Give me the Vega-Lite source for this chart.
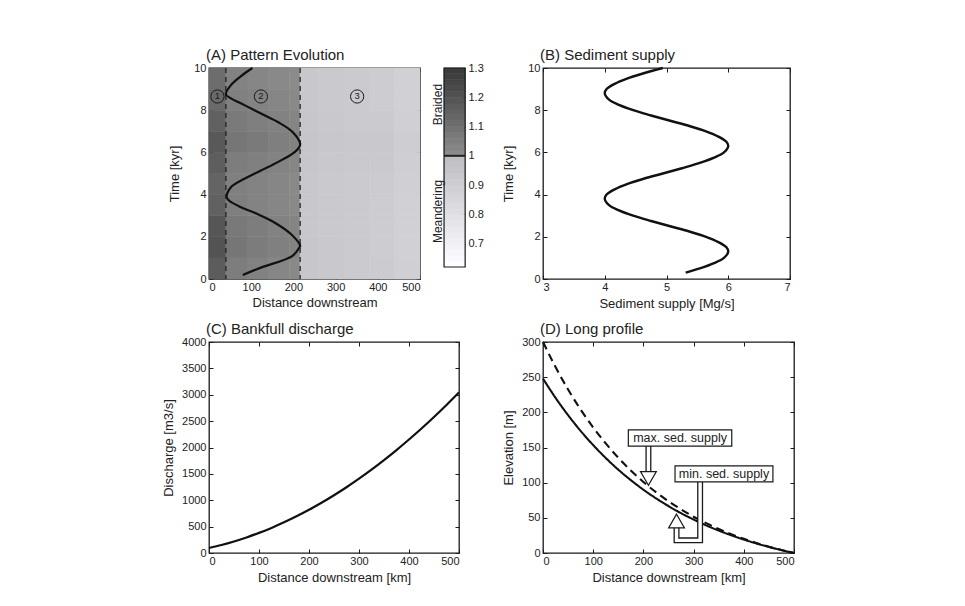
{
  "$schema": "https://vega.github.io/schema/vega-lite/v6.json",
  "autosize": "none",
  "padding": {"left": 209, "top": 68, "right": 756, "bottom": 538},
  "background": "white",
  "columns": 2,
  "bounds": "flush",
  "align": "each",
  "spacing": {"column": 84, "row": 63},
  "config": {
    "font": "Liberation Sans",
    "view": {"stroke": "#1a1a1a", "strokeWidth": 1.3},
    "axis": {"grid": false, "domain": false, "tickColor": "#1a1a1a", "tickSize": -4, "tickWidth": 1, "labelFont": "Liberation Sans", "labelFontSize": 11, "labelColor": "#222222", "labelPadding": 7, "labelOverlap": false, "titleFont": "Liberation Sans", "titleFontSize": 13, "titleFontWeight": "normal", "titleColor": "#222222", "titlePadding": 3},
    "axisX": {"labelPadding": 6, "titlePadding": 5},
    "title": {"anchor": "start", "frame": "group", "fontSize": 15, "fontWeight": "normal", "color": "#222222", "font": "Liberation Sans", "offset": -1}
  },
  "concat": [
    {
      "title": {"text": "(A) Pattern Evolution", "dx": -3},
      "width": 211,
      "height": 211,
      "layer": [
        {
          "data": {"values": [
            {"a":0,"b":40,"t":0,"u":1,"p":1.17},{"a":0,"b":40,"t":1,"u":2,"p":1.2},{"a":0,"b":40,"t":2,"u":3,"p":1.19},{"a":0,"b":40,"t":3,"u":4,"p":1.15},{"a":0,"b":40,"t":4,"u":5,"p":1.14},{"a":0,"b":40,"t":5,"u":6,"p":1.16},{"a":0,"b":40,"t":6,"u":7,"p":1.18},{"a":0,"b":40,"t":7,"u":8,"p":1.15},{"a":0,"b":40,"t":8,"u":9,"p":1.12},{"a":0,"b":40,"t":9,"u":10,"p":1.11},
            {"a":40,"b":90,"t":0,"u":1,"p":1.055},{"a":40,"b":90,"t":1,"u":2,"p":1.08},{"a":40,"b":90,"t":2,"u":3,"p":1.07},{"a":40,"b":90,"t":3,"u":4,"p":1.05},{"a":40,"b":90,"t":4,"u":5,"p":1.045},{"a":40,"b":90,"t":5,"u":6,"p":1.055},{"a":40,"b":90,"t":6,"u":7,"p":1.08},{"a":40,"b":90,"t":7,"u":8,"p":1.065},{"a":40,"b":90,"t":8,"u":9,"p":1.045},{"a":40,"b":90,"t":9,"u":10,"p":1.035},
            {"a":90,"b":140,"t":0,"u":1,"p":1.04},{"a":90,"b":140,"t":1,"u":2,"p":1.06},{"a":90,"b":140,"t":2,"u":3,"p":1.055},{"a":90,"b":140,"t":3,"u":4,"p":1.035},{"a":90,"b":140,"t":4,"u":5,"p":1.035},{"a":90,"b":140,"t":5,"u":6,"p":1.045},{"a":90,"b":140,"t":6,"u":7,"p":1.065},{"a":90,"b":140,"t":7,"u":8,"p":1.05},{"a":90,"b":140,"t":8,"u":9,"p":1.035},{"a":90,"b":140,"t":9,"u":10,"p":1.025},
            {"a":140,"b":190,"t":0,"u":1,"p":1.025},{"a":140,"b":190,"t":1,"u":2,"p":1.045},{"a":140,"b":190,"t":2,"u":3,"p":1.04},{"a":140,"b":190,"t":3,"u":4,"p":1.025},{"a":140,"b":190,"t":4,"u":5,"p":1.025},{"a":140,"b":190,"t":5,"u":6,"p":1.035},{"a":140,"b":190,"t":6,"u":7,"p":1.05},{"a":140,"b":190,"t":7,"u":8,"p":1.04},{"a":140,"b":190,"t":8,"u":9,"p":1.025},{"a":140,"b":190,"t":9,"u":10,"p":1.015},
            {"a":190,"b":216,"t":0,"u":1,"p":1.015},{"a":190,"b":216,"t":1,"u":2,"p":1.035},{"a":190,"b":216,"t":2,"u":3,"p":1.03},{"a":190,"b":216,"t":3,"u":4,"p":1.015},{"a":190,"b":216,"t":4,"u":5,"p":1.015},{"a":190,"b":216,"t":5,"u":6,"p":1.025},{"a":190,"b":216,"t":6,"u":7,"p":1.04},{"a":190,"b":216,"t":7,"u":8,"p":1.03},{"a":190,"b":216,"t":8,"u":9,"p":1.015},{"a":190,"b":216,"t":9,"u":10,"p":1.01},
            {"a":216,"b":260,"t":0,"u":1,"p":0.945},{"a":216,"b":260,"t":1,"u":2,"p":0.945},{"a":216,"b":260,"t":2,"u":3,"p":0.94},{"a":216,"b":260,"t":3,"u":4,"p":0.94},{"a":216,"b":260,"t":4,"u":5,"p":0.94},{"a":216,"b":260,"t":5,"u":6,"p":0.945},{"a":216,"b":260,"t":6,"u":7,"p":0.95},{"a":216,"b":260,"t":7,"u":8,"p":0.945},{"a":216,"b":260,"t":8,"u":9,"p":0.94},{"a":216,"b":260,"t":9,"u":10,"p":0.94},
            {"a":260,"b":320,"t":0,"u":1,"p":0.935},{"a":260,"b":320,"t":1,"u":2,"p":0.935},{"a":260,"b":320,"t":2,"u":3,"p":0.93},{"a":260,"b":320,"t":3,"u":4,"p":0.93},{"a":260,"b":320,"t":4,"u":5,"p":0.93},{"a":260,"b":320,"t":5,"u":6,"p":0.935},{"a":260,"b":320,"t":6,"u":7,"p":0.94},{"a":260,"b":320,"t":7,"u":8,"p":0.935},{"a":260,"b":320,"t":8,"u":9,"p":0.93},{"a":260,"b":320,"t":9,"u":10,"p":0.93},
            {"a":320,"b":380,"t":0,"u":1,"p":0.925},{"a":320,"b":380,"t":1,"u":2,"p":0.925},{"a":320,"b":380,"t":2,"u":3,"p":0.92},{"a":320,"b":380,"t":3,"u":4,"p":0.92},{"a":320,"b":380,"t":4,"u":5,"p":0.92},{"a":320,"b":380,"t":5,"u":6,"p":0.93},{"a":320,"b":380,"t":6,"u":7,"p":0.935},{"a":320,"b":380,"t":7,"u":8,"p":0.925},{"a":320,"b":380,"t":8,"u":9,"p":0.92},{"a":320,"b":380,"t":9,"u":10,"p":0.92},
            {"a":380,"b":440,"t":0,"u":1,"p":0.915},{"a":380,"b":440,"t":1,"u":2,"p":0.91},{"a":380,"b":440,"t":2,"u":3,"p":0.91},{"a":380,"b":440,"t":3,"u":4,"p":0.91},{"a":380,"b":440,"t":4,"u":5,"p":0.915},{"a":380,"b":440,"t":5,"u":6,"p":0.93},{"a":380,"b":440,"t":6,"u":7,"p":0.935},{"a":380,"b":440,"t":7,"u":8,"p":0.92},{"a":380,"b":440,"t":8,"u":9,"p":0.91},{"a":380,"b":440,"t":9,"u":10,"p":0.91},
            {"a":440,"b":500,"t":0,"u":1,"p":0.895},{"a":440,"b":500,"t":1,"u":2,"p":0.89},{"a":440,"b":500,"t":2,"u":3,"p":0.89},{"a":440,"b":500,"t":3,"u":4,"p":0.89},{"a":440,"b":500,"t":4,"u":5,"p":0.895},{"a":440,"b":500,"t":5,"u":6,"p":0.9},{"a":440,"b":500,"t":6,"u":7,"p":0.905},{"a":440,"b":500,"t":7,"u":8,"p":0.895},{"a":440,"b":500,"t":8,"u":9,"p":0.89},{"a":440,"b":500,"t":9,"u":10,"p":0.89}
          ]},
          "mark": {"type": "rect", "strokeWidth": 0.6},
          "encoding": {
            "x": {"field": "a", "type": "quantitative", "scale": {"domain": [0, 500], "nice": false, "zero": false}, "axis": {"values": [0, 100, 200, 300, 400, 500], "title": "Distance downstream", "titlePadding": 4}},
            "x2": {"field": "b"},
            "y": {"field": "t", "type": "quantitative", "scale": {"domain": [0, 10], "nice": false}, "axis": {"values": [0, 2, 4, 6, 8, 10], "title": "Time [kyr]", "titlePadding": 12}},
            "y2": {"field": "u"},
            "color": {"field": "p", "type": "quantitative", "scale": {"type": "linear", "domain": [0.62, 0.999, 1.0, 1.3], "range": ["#ffffff", "#bdbdc2", "#8e8e8e", "#383838"]}, "legend": null},
            "stroke": {"field": "p", "type": "quantitative", "scale": {"type": "linear", "domain": [0.62, 0.999, 1.0, 1.3], "range": ["#ffffff", "#bdbdc2", "#8e8e8e", "#383838"]}, "legend": null}
          }
        },
        {
          "data": {"values": [{"d": 40}, {"d": 216}]},
          "mark": {"type": "rule", "strokeDash": [5, 4], "color": "#1a1a1a", "strokeWidth": 1.2},
          "encoding": {"x": {"field": "d", "type": "quantitative", "axis": null}}
        },
        {
          "data": {"values": [
            {"d":80,"t":0.19},{"d":123,"t":0.54},{"d":198,"t":1.10},{"d":214,"t":1.49},{"d":216,"t":1.57},{"d":194,"t":2.13},{"d":155,"t":2.68},{"d":115,"t":3.08},{"d":76,"t":3.40},{"d":48,"t":3.71},{"d":42,"t":3.87},{"d":52,"t":4.35},{"d":84,"t":4.75},{"d":123,"t":5.14},{"d":163,"t":5.54},{"d":198,"t":5.94},{"d":214,"t":6.25},{"d":216,"t":6.41},{"d":198,"t":6.97},{"d":163,"t":7.44},{"d":123,"t":7.84},{"d":84,"t":8.24},{"d":52,"t":8.56},{"d":40,"t":8.75},{"d":52,"t":9.19},{"d":76,"t":9.62},{"d":103,"t":10.0}
          ]},
          "mark": {"type": "line", "color": "#111111", "strokeWidth": 2.2, "interpolate": "catmull-rom"},
          "encoding": {
            "x": {"field": "d", "type": "quantitative", "axis": null},
            "y": {"field": "t", "type": "quantitative", "scale": {"domain": [0, 10], "nice": false}, "axis": null},
            "order": {"field": "t"}
          }
        },
        {
          "data": {"values": [{"d": 20, "t": 8.65, "n": "1"}, {"d": 123, "t": 8.65, "n": "2"}, {"d": 351, "t": 8.65, "n": "3"}]},
          "layer": [
            {"mark": {"type": "point", "shape": "circle", "filled": false, "size": 175, "color": "#1a1a1a", "strokeWidth": 1, "opacity": 1}, "encoding": {"x": {"field": "d", "type": "quantitative", "axis": null}, "y": {"field": "t", "type": "quantitative", "scale": {"domain": [0, 10], "nice": false}, "axis": null}}},
            {"mark": {"type": "text", "fontSize": 9.5, "color": "#1a1a1a", "baseline": "middle", "align": "center"}, "encoding": {"x": {"field": "d", "type": "quantitative", "axis": null}, "y": {"field": "t", "type": "quantitative", "axis": null}, "text": {"field": "n"}}}
          ]
        },
        {
          "data": {"values": [
            {"lo":0.62,"hi":0.64,"v":0.63},{"lo":0.64,"hi":0.66,"v":0.65},{"lo":0.66,"hi":0.68,"v":0.67},{"lo":0.68,"hi":0.70,"v":0.69},{"lo":0.70,"hi":0.72,"v":0.71},{"lo":0.72,"hi":0.74,"v":0.73},{"lo":0.74,"hi":0.76,"v":0.75},{"lo":0.76,"hi":0.78,"v":0.77},{"lo":0.78,"hi":0.80,"v":0.79},{"lo":0.80,"hi":0.82,"v":0.81},{"lo":0.82,"hi":0.84,"v":0.83},{"lo":0.84,"hi":0.86,"v":0.85},{"lo":0.86,"hi":0.88,"v":0.87},{"lo":0.88,"hi":0.90,"v":0.89},{"lo":0.90,"hi":0.92,"v":0.91},{"lo":0.92,"hi":0.94,"v":0.93},{"lo":0.94,"hi":0.96,"v":0.95},{"lo":0.96,"hi":0.98,"v":0.97},{"lo":0.98,"hi":1.00,"v":0.99},{"lo":1.00,"hi":1.02,"v":1.01},{"lo":1.02,"hi":1.04,"v":1.03},{"lo":1.04,"hi":1.06,"v":1.05},{"lo":1.06,"hi":1.08,"v":1.07},{"lo":1.08,"hi":1.10,"v":1.09},{"lo":1.10,"hi":1.12,"v":1.11},{"lo":1.12,"hi":1.14,"v":1.13},{"lo":1.14,"hi":1.16,"v":1.15},{"lo":1.16,"hi":1.18,"v":1.17},{"lo":1.18,"hi":1.20,"v":1.19},{"lo":1.20,"hi":1.22,"v":1.21},{"lo":1.22,"hi":1.24,"v":1.23},{"lo":1.24,"hi":1.26,"v":1.25},{"lo":1.26,"hi":1.28,"v":1.27},{"lo":1.28,"hi":1.30,"v":1.29}
          ]},
          "mark": {"type": "rect", "strokeWidth": 0.6},
          "encoding": {
            "x": {"datum": 557, "type": "quantitative", "scale": {"domain": [0, 500], "nice": false, "zero": false}, "axis": null},
            "x2": {"datum": 607},
            "y": {"field": "lo", "type": "quantitative", "scale": {"domain": [0.579, 1.3], "nice": false, "zero": false}, "axis": {"orient": "right", "offset": 45, "values": [0.7, 0.8, 0.9, 1, 1.1, 1.2, 1.3], "format": ".1~f", "title": null}},
            "y2": {"field": "hi"},
            "color": {"field": "v", "type": "quantitative", "scale": {"type": "linear", "domain": [0.62, 0.999, 1.0, 1.3], "range": ["#ffffff", "#bdbdc2", "#8e8e8e", "#383838"]}, "legend": null},
            "stroke": {"field": "v", "type": "quantitative", "scale": {"type": "linear", "domain": [0.62, 0.999, 1.0, 1.3], "range": ["#ffffff", "#bdbdc2", "#8e8e8e", "#383838"]}, "legend": null}
          }
        },
        {
          "layer": [
            {
              "data": {"values": [{"lo": 0.62, "hi": 1.3}]},
              "mark": {"type": "rect", "filled": false, "stroke": "#1a1a1a", "strokeWidth": 1.2},
              "encoding": {
                "x": {"datum": 557, "type": "quantitative", "axis": null},
                "x2": {"datum": 607},
                "y": {"field": "lo", "type": "quantitative", "scale": {"domain": [0.579, 1.3], "nice": false, "zero": false}, "axis": null},
                "y2": {"field": "hi"}
              }
            },
            {
              "data": {"values": [{"v": 1.0}]},
              "mark": {"type": "rule", "color": "#222222", "strokeWidth": 2},
              "encoding": {
                "x": {"datum": 557, "type": "quantitative", "axis": null},
                "x2": {"datum": 607},
                "y": {"field": "v", "type": "quantitative", "axis": null}
              }
            },
            {
              "data": {"values": [{"lab": "Braided", "v": 1.175}, {"lab": "Meandering", "v": 0.81}]},
              "mark": {"type": "text", "angle": 270, "fontSize": 12, "color": "#222222", "align": "center", "baseline": "middle"},
              "encoding": {
                "x": {"datum": 543, "type": "quantitative", "axis": null},
                "y": {"field": "v", "type": "quantitative", "axis": null},
                "text": {"field": "lab"}
              }
            }
          ]
        },
        {
          "data": {"values": [{"d": 0, "t": 0}]},
          "mark": {"type": "point", "opacity": 0},
          "encoding": {
            "x": {"field": "d", "type": "quantitative", "scale": {"domain": [0, 500], "nice": false, "zero": false}, "axis": {"orient": "top", "values": [0, 100, 200, 300, 400, 500], "labels": false, "title": null}},
            "y": {"field": "t", "type": "quantitative", "scale": {"domain": [0, 10], "nice": false}, "axis": {"orient": "right", "values": [0, 2, 4, 6, 8, 10], "labels": false, "title": null}}
          }
        }
      ],
      "resolve": {"scale": {"y": "independent"}, "axis": {"x": "independent", "y": "independent"}}
    },
    {
      "title": {"text": "(B) Sediment supply", "dx": -3},
      "width": 247,
      "height": 211,
      "data": {"values": [
        {"t":0.3,"s":5.31},{"t":0.5,"s":5.54},{"t":0.75,"s":5.77},{"t":1.0,"s":5.93},{"t":1.3,"s":6.0},{"t":1.5,"s":5.97},{"t":1.75,"s":5.84},{"t":2.0,"s":5.64},{"t":2.25,"s":5.37},{"t":2.5,"s":5.06},{"t":2.75,"s":4.75},{"t":3.0,"s":4.46},{"t":3.25,"s":4.23},{"t":3.5,"s":4.07},{"t":3.8,"s":4.0},{"t":4.0,"s":4.03},{"t":4.25,"s":4.16},{"t":4.5,"s":4.36},{"t":4.75,"s":4.63},{"t":5.0,"s":4.94},{"t":5.25,"s":5.25},{"t":5.5,"s":5.54},{"t":5.75,"s":5.77},{"t":6.0,"s":5.93},{"t":6.3,"s":6.0},{"t":6.5,"s":5.97},{"t":6.75,"s":5.84},{"t":7.0,"s":5.64},{"t":7.25,"s":5.37},{"t":7.5,"s":5.06},{"t":7.75,"s":4.75},{"t":8.0,"s":4.46},{"t":8.25,"s":4.23},{"t":8.5,"s":4.07},{"t":8.8,"s":4.0},{"t":9.0,"s":4.03},{"t":9.25,"s":4.16},{"t":9.5,"s":4.36},{"t":9.75,"s":4.63},{"t":10.0,"s":4.94}
      ]},
      "layer": [
        {
          "mark": {"type": "line", "color": "#111111", "strokeWidth": 2.4, "interpolate": "catmull-rom"},
          "encoding": {
            "x": {"field": "s", "type": "quantitative", "scale": {"domain": [3, 7], "nice": false, "zero": false}, "axis": {"values": [3, 4, 5, 6, 7], "title": "Sediment supply [Mg/s]"}},
            "y": {"field": "t", "type": "quantitative", "scale": {"domain": [0, 10], "nice": false}, "axis": {"values": [0, 2, 4, 6, 8, 10], "title": "Time [kyr]", "titlePadding": 12}},
            "order": {"field": "t"}
          }
        },
        {
          "mark": {"type": "point", "opacity": 0},
          "encoding": {
            "x": {"field": "s", "type": "quantitative", "axis": {"orient": "top", "values": [3, 4, 5, 6, 7], "labels": false, "title": null}},
            "y": {"field": "t", "type": "quantitative", "axis": {"orient": "right", "values": [0, 2, 4, 6, 8, 10], "labels": false, "title": null}}
          }
        }
      ],
      "resolve": {"axis": {"x": "independent", "y": "independent"}}
    },
    {
      "title": {"text": "(C) Bankfull discharge", "dx": -3},
      "width": 250,
      "height": 211,
      "data": {"values": [
        {"d":0,"q":95},{"d":25,"q":152},{"d":50,"q":219},{"d":75,"q":295},{"d":100,"q":381},{"d":125,"q":476},{"d":150,"q":581},{"d":175,"q":695},{"d":200,"q":819},{"d":225,"q":952},{"d":250,"q":1095},{"d":275,"q":1247},{"d":300,"q":1409},{"d":325,"q":1580},{"d":350,"q":1761},{"d":375,"q":1951},{"d":400,"q":2151},{"d":425,"q":2360},{"d":450,"q":2579},{"d":475,"q":2807},{"d":500,"q":3045}
      ]},
      "layer": [
        {
          "mark": {"type": "line", "color": "#111111", "strokeWidth": 2.2, "interpolate": "monotone"},
          "encoding": {
            "x": {"field": "d", "type": "quantitative", "scale": {"domain": [0, 500], "nice": false}, "axis": {"values": [0, 100, 200, 300, 400, 500], "title": "Distance downstream [km]"}},
            "y": {"field": "q", "type": "quantitative", "scale": {"domain": [0, 4000], "nice": false}, "axis": {"values": [0, 500, 1000, 1500, 2000, 2500, 3000, 3500, 4000], "format": "d", "title": "Discharge [m3/s]", "titlePadding": 6}}
          }
        },
        {
          "mark": {"type": "point", "opacity": 0},
          "encoding": {
            "x": {"field": "d", "type": "quantitative", "axis": {"orient": "top", "values": [0, 100, 200, 300, 400, 500], "labels": false, "title": null}},
            "y": {"field": "q", "type": "quantitative", "axis": {"orient": "right", "values": [0, 500, 1000, 1500, 2000, 2500, 3000, 3500, 4000], "labels": false, "title": null}}
          }
        }
      ],
      "resolve": {"axis": {"x": "independent", "y": "independent"}}
    },
    {
      "title": {"text": "(D) Long profile", "dx": -3},
      "width": 251,
      "height": 211,
      "layer": [
        {
          "data": {"values": [
            {"d":0,"z":300,"s":"max"},{"d":25,"z":264.3,"s":"max"},{"d":50,"z":232.4,"s":"max"},{"d":75,"z":204.0,"s":"max"},{"d":100,"z":178.5,"s":"max"},{"d":125,"z":155.8,"s":"max"},{"d":150,"z":135.4,"s":"max"},{"d":175,"z":117.3,"s":"max"},{"d":200,"z":101.0,"s":"max"},{"d":225,"z":86.5,"s":"max"},{"d":250,"z":73.6,"s":"max"},{"d":275,"z":62.0,"s":"max"},{"d":300,"z":51.6,"s":"max"},{"d":325,"z":42.4,"s":"max"},{"d":350,"z":34.1,"s":"max"},{"d":375,"z":26.7,"s":"max"},{"d":400,"z":20.1,"s":"max"},{"d":425,"z":14.2,"s":"max"},{"d":450,"z":9.0,"s":"max"},{"d":475,"z":4.3,"s":"max"},{"d":500,"z":0,"s":"max"},
            {"d":0,"z":247.9,"s":"min"},{"d":25,"z":220.6,"s":"min"},{"d":50,"z":195.9,"s":"min"},{"d":75,"z":173.6,"s":"min"},{"d":100,"z":153.4,"s":"min"},{"d":125,"z":135.1,"s":"min"},{"d":150,"z":118.5,"s":"min"},{"d":175,"z":103.6,"s":"min"},{"d":200,"z":90.0,"s":"min"},{"d":225,"z":77.8,"s":"min"},{"d":250,"z":66.7,"s":"min"},{"d":275,"z":56.6,"s":"min"},{"d":300,"z":47.6,"s":"min"},{"d":325,"z":39.3,"s":"min"},{"d":350,"z":31.9,"s":"min"},{"d":375,"z":25.2,"s":"min"},{"d":400,"z":19.1,"s":"min"},{"d":425,"z":13.6,"s":"min"},{"d":450,"z":8.6,"s":"min"},{"d":475,"z":4.1,"s":"min"},{"d":500,"z":0,"s":"min"}
          ]},
          "mark": {"type": "line", "color": "#111111", "strokeWidth": 2.1, "interpolate": "monotone"},
          "encoding": {
            "x": {"field": "d", "type": "quantitative", "scale": {"domain": [0, 500], "nice": false}, "axis": {"values": [0, 100, 200, 300, 400, 500], "title": "Distance downstream [km]"}},
            "y": {"field": "z", "type": "quantitative", "scale": {"domain": [0, 300], "nice": false}, "axis": {"values": [0, 50, 100, 150, 200, 250, 300], "title": "Elevation [m]", "titlePadding": 6}},
            "detail": {"field": "s"},
            "strokeDash": {"field": "s", "type": "nominal", "scale": {"domain": ["min", "max"], "range": [[1, 0], [8, 5]]}, "legend": null}
          }
        },
        {
          "layer": [
            {
              "data": {"values": [{"d": 210, "z1": 152, "z2": 116}]},
              "layer": [
                {"mark": {"type": "rule", "color": "#1a1a1a", "strokeWidth": 6, "strokeCap": "butt"}, "encoding": {"x": {"field": "d", "type": "quantitative", "axis": null}, "y": {"field": "z1", "type": "quantitative", "axis": null}, "y2": {"field": "z2"}}},
                {"mark": {"type": "rule", "color": "#ffffff", "strokeWidth": 3.4, "strokeCap": "butt"}, "encoding": {"x": {"field": "d", "type": "quantitative", "axis": null}, "y": {"field": "z1", "type": "quantitative", "axis": null}, "y2": {"field": "z2"}}}
              ]
            },
            {
              "data": {"values": [{"d": 313, "z": 101, "o": 1}, {"d": 313, "z": 18, "o": 2}, {"d": 266, "z": 18, "o": 3}, {"d": 266, "z": 37, "o": 4}]},
              "layer": [
                {"mark": {"type": "line", "color": "#1a1a1a", "strokeWidth": 6, "strokeJoin": "miter", "strokeCap": "butt"}, "encoding": {"x": {"field": "d", "type": "quantitative", "axis": null}, "y": {"field": "z", "type": "quantitative", "axis": null}, "order": {"field": "o"}}},
                {"mark": {"type": "line", "color": "#ffffff", "strokeWidth": 3.4, "strokeJoin": "miter", "strokeCap": "butt"}, "encoding": {"x": {"field": "d", "type": "quantitative", "axis": null}, "y": {"field": "z", "type": "quantitative", "axis": null}, "order": {"field": "o"}}}
              ]
            },
            {
              "data": {"values": [{"d": 210, "z": 106, "sh": "triangle-down"}, {"d": 266, "z": 45.5, "sh": "triangle-up"}]},
              "mark": {"type": "point", "filled": true, "fill": "#ffffff", "stroke": "#1a1a1a", "strokeWidth": 1.2, "size": 250, "opacity": 1},
              "encoding": {
                "x": {"field": "d", "type": "quantitative", "axis": null},
                "y": {"field": "z", "type": "quantitative", "axis": null},
                "shape": {"field": "sh", "type": "nominal", "scale": {"domain": ["triangle-down", "triangle-up"], "range": ["triangle-down", "triangle-up"]}, "legend": null}
              }
            },
            {
              "data": {"values": [{"x1": 170, "x2": 376, "y1": 152, "y2": 175, "lab": "max. sed. supply", "xc": 273, "yc": 163.5}, {"x1": 263, "x2": 458, "y1": 101, "y2": 124, "lab": "min. sed. supply", "xc": 360.5, "yc": 112.5}]},
              "layer": [
                {"mark": {"type": "rect", "fill": "#ffffff", "stroke": "#1a1a1a", "strokeWidth": 1.2}, "encoding": {"x": {"field": "x1", "type": "quantitative", "axis": null}, "x2": {"field": "x2"}, "y": {"field": "y1", "type": "quantitative", "axis": null}, "y2": {"field": "y2"}}},
                {"mark": {"type": "text", "fontSize": 12.5, "color": "#222222", "align": "center", "baseline": "middle"}, "encoding": {"x": {"field": "xc", "type": "quantitative", "axis": null}, "y": {"field": "yc", "type": "quantitative", "axis": null}, "text": {"field": "lab"}}}
              ]
            }
          ]
        },
        {
          "data": {"values": [{"d": 0, "z": 0}]},
          "mark": {"type": "point", "opacity": 0},
          "encoding": {
            "x": {"field": "d", "type": "quantitative", "axis": {"orient": "top", "values": [0, 100, 200, 300, 400, 500], "labels": false, "title": null}},
            "y": {"field": "z", "type": "quantitative", "axis": {"orient": "right", "values": [0, 50, 100, 150, 200, 250, 300], "labels": false, "title": null}}
          }
        }
      ],
      "resolve": {"axis": {"x": "independent", "y": "independent"}}
    }
  ]
}
